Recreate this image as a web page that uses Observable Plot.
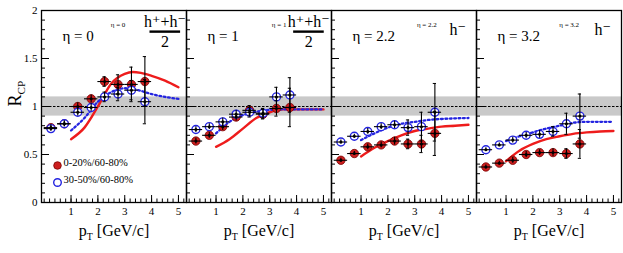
<!DOCTYPE html>
<html><head><meta charset="utf-8">
<script src="https://cdn.jsdelivr.net/npm/d3@7"></script>
<script src="https://cdn.jsdelivr.net/npm/@observablehq/plot@0.6"></script>
<style>
body{margin:0;background:#fff}
#chart svg, #chart svg text, #chart svg tspan { font-family: "Liberation Serif", "DejaVu Serif", serif !important; }
</style>
</head><body><div id="chart"></div>
<script>
// ---- categories / labels ----
const etaPanels = ["η = 0", "η = 1", "η = 2.2", "η = 3.2"];
const etaSmall = ["η = 0", "η = 1", "η = 2.2", "η = 3.2"];
const speciesLabels = ["h⁺+h⁻", "h⁺+h⁻", "h⁻", "h⁻"];
const legendLabels = ["0-20%/60-80%", "30-50%/60-80%"];
const xTickLabels = [1, 2, 3, 4, 5];
const yTickLabels = [0, 0.5, 1, 1.5, 2];
const xLabel = "p_T [GeV/c]";
const yLabel = "R_CP";

// ---- data: pT bin centres and R_CP values ----
const ptBins = [0.25, 0.75, 1.25, 1.75, 2.25, 2.75, 3.25, 3.75];
const ptHalfWidth = 0.25;

const central_eta0 = [0.78, 0.82, 1.00, 1.08, 1.26, 1.23, 1.23, 1.26];
const central_eta1 = [0.64, 0.70, 0.79, 0.89, 0.96, 0.92, 0.98, 0.99];
const central_eta22 = [0.44, 0.51, 0.58, 0.60, 0.64, 0.61, 0.61, 0.72];
const central_eta32 = [0.37, 0.41, 0.44, 0.50, 0.52, 0.52, 0.51, 0.61];

const centralErr_eta0 = [0.03, 0.03, 0.04, 0.04, 0.05, 0.10, 0.18, 0.26];
const centralErr_eta1 = [0.03, 0.03, 0.04, 0.04, 0.05, 0.05, 0.08, 0.20];
const centralErr_eta22 = [0.02, 0.02, 0.03, 0.03, 0.04, 0.05, 0.09, 0.23];
const centralErr_eta32 = [0.02, 0.02, 0.03, 0.03, 0.03, 0.04, 0.05, 0.15];

const semi_eta0 = [0.77, 0.82, 0.94, 0.99, 1.10, 1.13, 1.17, 1.05];
const semi_eta1 = [0.76, 0.79, 0.84, 0.92, 0.94, 0.93, 1.10, 1.12];
const semi_eta22 = [0.63, 0.69, 0.74, 0.79, 0.81, 0.78, 0.79, 0.94];
const semi_eta32 = [0.55, 0.60, 0.65, 0.70, 0.71, 0.74, 0.82, 0.90];

const semiErr_eta0 = [0.03, 0.03, 0.04, 0.04, 0.05, 0.07, 0.10, 0.23];
const semiErr_eta1 = [0.03, 0.03, 0.04, 0.04, 0.05, 0.05, 0.10, 0.18];
const semiErr_eta22 = [0.02, 0.02, 0.03, 0.03, 0.04, 0.08, 0.15, 0.30];
const semiErr_eta32 = [0.02, 0.02, 0.03, 0.03, 0.04, 0.05, 0.11, 0.23];

// ---- model curves [pT, R] ----
const centralCurve_eta0 = [[1,0.66],[1.5,0.78],[2,1.0],[2.5,1.24],[3,1.34],[3.3,1.36],[3.6,1.35],[4,1.32],[4.5,1.27],[5,1.2]];
const centralCurve_eta1 = [[1,0.58],[1.5,0.66],[2,0.77],[2.5,0.88],[3,0.94],[3.5,0.97],[4,0.97],[5,0.97]];
const centralCurve_eta22 = [[1,0.48],[1.5,0.57],[2,0.64],[2.5,0.70],[3,0.745],[3.5,0.77],[4,0.79],[4.5,0.80],[5,0.81]];
const centralCurve_eta32 = [[1,0.43],[1.5,0.54],[2,0.61],[2.5,0.66],[3,0.69],[3.5,0.715],[4,0.73],[4.5,0.74],[5,0.745]];

const semiCurve_eta0 = [[1,0.75],[1.5,0.88],[2,1.05],[2.5,1.15],[3,1.19],[3.5,1.17],[4,1.13],[4.5,1.10],[5,1.08]];
const semiCurve_eta1 = [[1,0.72],[1.5,0.84],[2,0.91],[2.5,0.945],[3,0.965],[3.5,0.97],[5,0.97]];
const semiCurve_eta22 = [[1,0.65],[1.5,0.72],[2,0.78],[2.5,0.82],[3,0.84],[3.5,0.86],[4,0.87],[5,0.88]];
const semiCurve_eta32 = [[1,0.64],[1.5,0.69],[2,0.73],[2.5,0.77],[3,0.80],[3.5,0.83],[4,0.84],[5,0.84]];

// normalisation band
const bandLow = [0.9];
const bandHigh = [1.1];
const unity = [1];

// ---- build tables ----
const centralVals = [central_eta0, central_eta1, central_eta22, central_eta32];
const centralErrs = [centralErr_eta0, centralErr_eta1, centralErr_eta22, centralErr_eta32];
const semiVals = [semi_eta0, semi_eta1, semi_eta22, semi_eta32];
const semiErrs = [semiErr_eta0, semiErr_eta1, semiErr_eta22, semiErr_eta32];
const centralCurves = [centralCurve_eta0, centralCurve_eta1, centralCurve_eta22, centralCurve_eta32];
const semiCurves = [semiCurve_eta0, semiCurve_eta1, semiCurve_eta22, semiCurve_eta32];

const centralRows = [], semiRows = [];
etaPanels.forEach((eta, i) => ptBins.forEach((pt, j) => {
  centralRows.push({eta, pt, r: centralVals[i][j], e: centralErrs[i][j]});
  semiRows.push({eta, pt, r: semiVals[i][j], e: semiErrs[i][j]});
}));
const allRows = centralRows.concat(semiRows);
const capRows = allRows.filter(d => d.e > 0.045).flatMap(d => [{...d, y: d.r - d.e}, {...d, y: d.r + d.e}]);
const curveRows = (curves) => etaPanels.flatMap((eta, i) => curves[i].map(([pt, r]) => ({eta, pt, r})));
const centralCurveRows = curveRows(centralCurves);
const semiCurveRows = curveRows(semiCurves);
const bandRows = bandLow.map((lo, i) => ({lo, hi: bandHigh[i]}));

// ---- layout (annotation positions) ----
const smallLabelX = [2.75, 3.35, 3.45, 3.35];
const speciesX = [4.5, 4.45, 4.6, 4.6];
const labelRows = etaPanels.map((eta, i) => ({eta, small: etaSmall[i], species: speciesLabels[i], sx: smallLabelX[i], spx: speciesX[i], frac: speciesLabels[i].includes("+")}));
const fracRows = labelRows.filter(d => d.frac);

const xMinor = d3.range(0, 5.31, 0.2);
const yMinor = d3.range(0, 2.001, 0.1);

const RED = "#ee1c1c", BLUE = "#2424e0";
const SERIF = "Liberation Serif";

const chart = Plot.plot({
  width: 623, height: 253,
  marginLeft: 40, marginRight: 2, marginTop: 10, marginBottom: 51,
  fx: {domain: etaPanels, padding: 0, axis: null, label: null},
  x: {domain: [-0.1, 5.3]},
  y: {domain: [0, 2]},
  style: {fontSize: "11px", color: "black", background: "white", overflow: "visible"},
  marks: [
    Plot.rect(bandRows, {y1: "lo", y2: "hi", fill: "#c9c9c9"}),
    Plot.ruleY(unity, {stroke: "black", strokeWidth: 1, strokeDasharray: "2.5,1.5"}),
    Plot.line(centralCurveRows, {x: "pt", y: "r", fx: "eta", z: "eta", stroke: RED, strokeWidth: 2.4, curve: "monotone-x"}),
    Plot.line(semiCurveRows, {x: "pt", y: "r", fx: "eta", z: "eta", stroke: BLUE, strokeWidth: 2.3, strokeDasharray: "1.8,2.6", curve: "monotone-x"}),
    Plot.dot(centralRows, {x: "pt", y: "r", fx: "eta", r: 4.2, fill: "#cc1f1f", stroke: "#7a0000", strokeWidth: 0.8}),
    Plot.dot(semiRows, {x: "pt", y: "r", fx: "eta", r: 4, fill: "white", stroke: BLUE, strokeWidth: 1.4}),
    Plot.ruleY(allRows, {y: "r", x1: d => d.pt - ptHalfWidth, x2: d => d.pt + ptHalfWidth, fx: "eta", stroke: "black", strokeWidth: 1.1}),
    Plot.ruleX(allRows, {x: "pt", y1: d => d.r - d.e, y2: d => d.r + d.e, fx: "eta", stroke: "black", strokeWidth: 1.1}),
    Plot.ruleY(capRows, {y: "y", x1: d => d.pt - 0.06, x2: d => d.pt + 0.06, fx: "eta", stroke: "black", strokeWidth: 1}),
    Plot.dot(allRows, {x: "pt", y: "r", fx: "eta", r: 1.5, fill: "black"}),
    Plot.frame({stroke: "black", strokeWidth: 1.3}),
    // axes
    Plot.axisX(xTickLabels, {tickSize: 0, tickPadding: 5, fontSize: 11, fontFamily: SERIF, label: null, tickFormat: d => String(d)}),
    Plot.axisX(xTickLabels, {tickSize: -7, tickFormat: () => "", label: null}),
    Plot.axisX(xMinor, {tickSize: -3.5, tickFormat: () => "", label: null}),
    Plot.axisY(yTickLabels, {tickSize: 0, tickPadding: 4, fontSize: 11, fontFamily: SERIF, label: null, tickFormat: d => String(d)}),
    Plot.axisY(yTickLabels, {tickSize: -8, tickFormat: () => "", label: null, facetAnchor: null}),
    Plot.axisY(yMinor, {tickSize: -4, tickFormat: () => "", label: null, facetAnchor: null}),
    // axis titles
    Plot.text([xLabel], {text: d => d, frameAnchor: "bottom", dy: 33, fontSize: 16, fontFamily: SERIF}),
    Plot.text([{eta: etaPanels[0], t: yLabel}], {fx: "eta", text: "t", frameAnchor: "left", dx: -26, rotate: -90, fontSize: 18, fontFamily: SERIF}),
    // panel labels
    Plot.text(labelRows, {fx: "eta", text: "eta", frameAnchor: "top-left", dx: 21, dy: 20, textAnchor: "start", fontSize: 15, fontFamily: SERIF}),
    Plot.text(labelRows, {fx: "eta", text: "small", x: "sx", y: () => 1.85, fontSize: 7, fontFamily: SERIF}),
    Plot.text(fracRows, {fx: "eta", text: "species", x: "spx", y: () => 1.885, fontSize: 16, fontFamily: SERIF}),
    Plot.ruleY(fracRows, {fx: "eta", y: () => 1.78, x1: d => d.spx - 0.56, x2: d => d.spx + 0.58, stroke: "black", strokeWidth: 2.4}),
    Plot.text(fracRows, {fx: "eta", text: () => "2", x: "spx", y: () => 1.675, fontSize: 16, fontFamily: SERIF}),
    Plot.text(labelRows.filter(d => !d.frac), {fx: "eta", text: "species", x: "spx", y: () => 1.8, fontSize: 16, fontFamily: SERIF}),
    // legend
    Plot.dot([{eta: etaPanels[0]}], {fx: "eta", frameAnchor: "bottom-left", dx: 16, dy: -37, r: 3.8, fill: "#cc1f1f", stroke: "#7a0000", strokeWidth: 0.8}),
    Plot.dot([{eta: etaPanels[0]}], {fx: "eta", frameAnchor: "bottom-left", dx: 16, dy: -20, r: 3.8, fill: "white", stroke: BLUE, strokeWidth: 1.4}),
    Plot.text([{eta: etaPanels[0], t: legendLabels[0]}], {fx: "eta", text: "t", frameAnchor: "bottom-left", dx: 22, dy: -37, textAnchor: "start", fontSize: 10.5, fontFamily: SERIF}),
    Plot.text([{eta: etaPanels[0], t: legendLabels[1]}], {fx: "eta", text: "t", frameAnchor: "bottom-left", dx: 22, dy: -20, textAnchor: "start", fontSize: 10.5, fontFamily: SERIF})
  ]
});

// subscripts for axis titles (p_T, R_CP)
d3.select(chart).selectAll("text").each(function() {
  const el = d3.select(this);
  if (this.querySelector("tspan")) return;
  const t = el.text();
  const m = t.match(/^(\w)_(\w+)(.*)$/);
  if (!m) return;
  el.text(null);
  el.append("tspan").text(m[1]);
  el.append("tspan").attr("font-size", "0.62em").attr("dy", 4).text(m[2]);
  if (m[3]) el.append("tspan").attr("dy", -4).text(m[3]);
});

document.getElementById("chart").append(chart);
</script>
</body></html>
